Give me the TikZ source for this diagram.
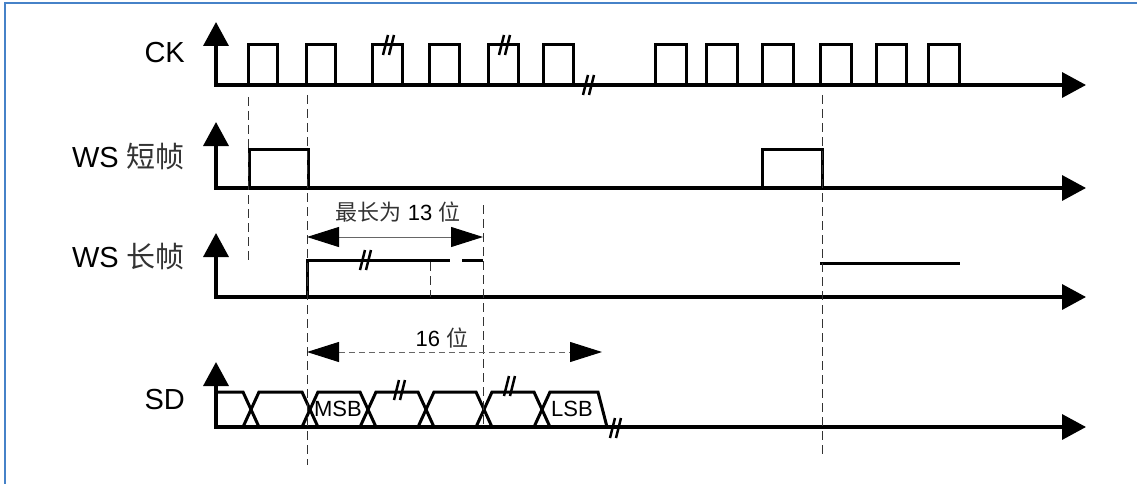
\documentclass[tikz,border=0pt]{standalone}
\usepackage{fontspec}
\setmainfont{Liberation Sans}
\newfontfamily\cjk[Color=333333]{Noto Sans CJK SC}
\usetikzlibrary{arrows.meta, positioning, calc}
\definecolor{frameblue}{RGB}{70,130,200}
\tikzset{
  axis/.style={line width=3.5pt, line join=miter,
               {Triangle[length=24pt, width=25pt]}-{Triangle[length=24pt, width=25pt]}},
  sig/.style={line width=3pt, line join=miter, black},
  guide/.style={line width=1pt, black!80, dash pattern=on 9pt off 5pt},
  span/.style={line width=1pt, black!60,
               {Triangle[length=32pt, width=20pt, color=black]}-{Triangle[length=32pt, width=20pt, color=black]}},
  rowlbl/.style={font=\fontsize{29}{34}\selectfont, anchor=east, inner sep=0pt},
  smlbl/.style={font=\fontsize{22}{26}\selectfont, inner sep=0pt},
  brkmark/.pic={\draw[line width=2.5pt] (-6,10) -- (-1,-10) (0,10) -- (5,-10);},
}
\begin{document}
\begin{tikzpicture}[x=1pt, y=-1pt]
  \useasboundingbox (0,0) rectangle (1137,484);
  \draw[frameblue, line width=2pt] (5,484) -- (5,3) -- (1137,3);
  %% rows: axes and names
  \foreach \nm/\base/\tip/\ly/\txt in {ck/85/22/53/CK, wss/188/122/157/{WS {\cjk 短帧}},
      wsl/297/233/257/{WS {\cjk 长帧}}, sd/427/362/400/SD} {
    \node[rowlbl] (lbl\nm) at (185,\ly) {\txt};
    \draw[axis] (216,\tip) -- (216,\base) -- (1086,\base);
  }
  %% CK
  \foreach \a/\b in {248/277,306/335,372/402,429/459,488/518,543/573,
                     655/686,706/737,762/793,820/851,876/906,928/959}
    \draw[sig] (\a,85) -- (\a,45) -- (\b,45) -- (\b,85);
  %% WS short frame
  \foreach \a/\b in {249/308,762/822}
    \draw[sig] (\a,188) -- (\a,149) -- (\b,149) -- (\b,188);
  %% WS long frame
  \draw[sig] (307,297) -- (307,260) -- (450,260);
  \draw[sig] (462,260) -- (483,260);
  \draw[sig] (820,263) -- (960,263);
  %% SD
  \draw[sig] (216,392) -- (243,392) -- (259,427);
  \foreach \a/\b in {251/310,310/368,368/426,426/484,484/542}
    \draw[sig] (\a-8,427) -- (\a+8,392) -- (\b-8,392) -- (\b+8,427);
  \draw[sig] (534,427) -- (550,392) -- (598,392) -- (607,427);
  \node[smlbl] (msb) at (338,409) {MSB};
  \node[smlbl] (lsb) at (572,409) {LSB};
  %% breaks
  \foreach \bx/\by in {389/45,505/45,589/85,366/260,400/390,510/386,616/428}
    \pic at (\bx,\by) {brkmark};
  %% guides
  \draw[guide] (248,97) -- (248,262);
  \draw[guide] (307,95) -- (307,465);
  \draw[guide] (822,95) -- (822,458);
  \draw[guide] (430,262) -- (430,297);
  \draw[guide] (483,205) -- (483,427);
  %% bit spans
  \coordinate (m13a) at (307,237);
  \coordinate (m13b) at (483,237);
  \coordinate (m16a) at (307,352);
  \coordinate (m16b) at (602,352);
  \draw[span] (m13a) -- (m13b);
  \node[smlbl] (len13) at (398,212) {{\cjk 最长为} 13 {\cjk 位}};
  \draw[span, dash pattern=on 6pt off 4pt] (m16a) -- (m16b);
  \node[smlbl] (len16) at (442,338) {16 {\cjk 位}};
\end{tikzpicture}
\end{document}
